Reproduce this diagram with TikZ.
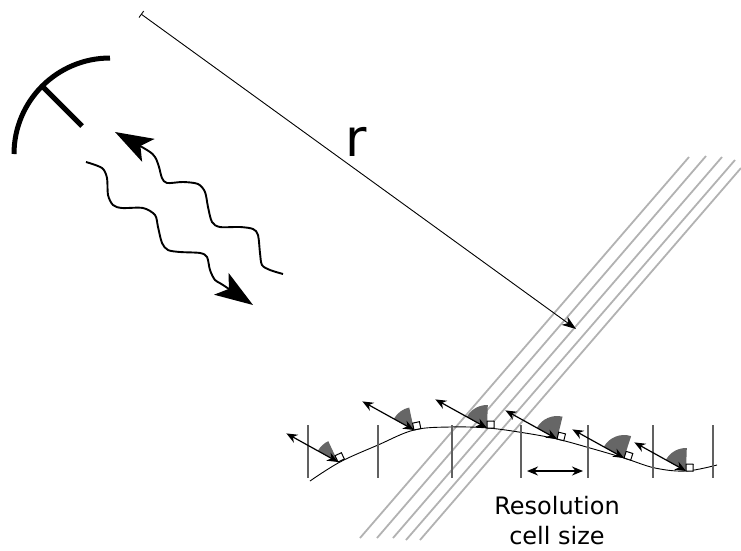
\documentclass[tikz,border=0pt]{standalone}
\usepackage{fontspec}
\setmainfont{DejaVu Sans}
\usetikzlibrary{arrows.meta}

\begin{document}
\begin{tikzpicture}[x = 1pt, y = 1pt,
	dish/.style = {line width = 5pt},
	slant/.style = {line width = 0.9pt, {Bar[width = 8pt]}-{Stealth[length = 14pt, width = 10pt, inset = 4pt]}},
	wave/.style = {line width = 1.9pt, -{Stealth[length = 38pt, width = 26pt, inset = 9pt]}},
	pulse/.style = {line width = 1.8pt, draw = black!30},
	ground/.style = {line width = 0.9pt},
	cellline/.style = {line width = 1.8pt, draw = black!62},
	lobe/.style = {fill = black!60},
	spot/.style = {draw, fill = white, line width = 1pt},
	echo/.style = {line width = 1.2pt, {Stealth[length = 11pt, width = 9pt]}-{Stealth[length = 11pt, width = 9pt]}},
	cellspan/.style = {line width = 1.5pt, {Stealth[length = 11pt, width = 9pt]}-{Stealth[length = 11pt, width = 9pt]}},
	txt/.style = {inner sep = 0pt}]
	\useasboundingbox (0,0) rectangle (741,-550);

	% wavefronts of the pulse
	\draw[pulse] (360,-538) -- (689,-157);
	\draw[pulse] (377,-538) -- (706,-156);
	\draw[pulse] (393,-538) -- (722,-157);
	\draw[pulse] (406,-540) -- (735,-160);
	\draw[pulse] (420,-540) -- (741,-168);

	% antenna
	\draw[dish] (14,-154) arc[start angle = 180, end angle = 90, radius = 96];
	\draw[dish] (42,-86) -- (82,-126);

	% slant range
	\coordinate (rstart) at (141,-14);
	\coordinate (rend) at (576,-329);
	\draw[slant] (rstart) -- (rend);
	\node[txt, font = \fontsize{52}{52}\selectfont](rlabel) at (356,-142){r};

	% transmitted and received waves
	\draw[wave] plot[smooth, tension = 0.5] coordinates {(86,-162) (102,-168) (107,-178) (108,-195) (113,-205) (122,-208) (143,-208) (155,-215) (158,-227) (162,-243) (168,-250) (180,-252) (200,-253) (207,-257) (210,-270) (215,-280) (223,-285) (253,-305)};
	\draw[wave] plot[smooth, tension = 0.5] coordinates {(283,-274) (270,-270) (262,-265) (260,-253) (258,-235) (253,-229) (240,-227) (220,-227) (212,-222) (208,-207) (205,-192) (198,-184) (183,-182) (167,-183) (162,-178) (159,-167) (155,-157) (147,-150) (115,-132)};

	% terrain and cells
	\draw[ground] plot[smooth, tension = 0.6] coordinates {(310,-481) (340,-462) (378,-445) (414,-430) (450,-427) (488,-428) (525,-433) (557,-439) (590,-448) (624,-458) (655,-468) (686,-471) (717,-465)};
	\draw[cellline] (308,-425) -- (308,-478);
	\draw[cellline] (378,-425) -- (378,-478);
	\draw[cellline] (452,-425) -- (452,-478);
	\draw[cellline] (521,-425) -- (521,-478);
	\draw[cellline] (588,-425) -- (588,-478);
	\draw[cellline] (653,-425) -- (653,-478);
	\draw[cellline] (713,-425) -- (713,-478);

	% scatterers
	\coordinate (s1) at (338,-462);
	\coordinate (s2) at (414,-430);
	\coordinate (s3) at (487,-428);
	\coordinate (s4) at (557,-439);
	\coordinate (s5) at (624,-458);
	\coordinate (s6) at (686,-471);

	\fill[lobe] (s1) -- ++(151:23) arc[start angle = 151, end angle = 115, radius = 23] -- cycle;
	\fill[lobe] (s2) -- ++(151:23) arc[start angle = 151, end angle = 102, radius = 23] -- cycle;
	\fill[lobe] (s3) -- ++(151:23) arc[start angle = 151, end angle = 88, radius = 23] -- cycle;
	\fill[lobe] (s4) -- ++(151:23) arc[start angle = 151, end angle = 76, radius = 23] -- cycle;
	\fill[lobe] (s5) -- ++(151:23) arc[start angle = 151, end angle = 72, radius = 23] -- cycle;
	\fill[lobe] (s6) -- ++(151:23) arc[start angle = 151, end angle = 88, radius = 23] -- cycle;

	\draw[spot] (s1) -- ++(25:7) -- ++(115:7) -- ++(205:7) -- cycle;
	\draw[spot] (s2) -- ++(12:7) -- ++(102:7) -- ++(192:7) -- cycle;
	\draw[spot] (s3) -- ++(-2:7) -- ++(88:7) -- ++(178:7) -- cycle;
	\draw[spot] (s4) -- ++(-14:7) -- ++(76:7) -- ++(166:7) -- cycle;
	\draw[spot] (s5) -- ++(-18:7) -- ++(72:7) -- ++(162:7) -- cycle;
	\draw[spot] (s6) -- ++(-2:7) -- ++(88:7) -- ++(178:7) -- cycle;

	\draw[echo] (s1) -- ++(151:59);
	\draw[echo] (s2) -- ++(151:59);
	\draw[echo] (s3) -- ++(151:59);
	\draw[echo] (s4) -- ++(151:59);
	\draw[echo] (s5) -- ++(151:59);
	\draw[echo] (s6) -- ++(151:59);

	% resolution cell
	\coordinate (cleft) at (527,-471);
	\coordinate (cright) at (583,-471);
	\draw[cellspan] (cleft) -- (cright);
	\node[txt, anchor = north, align = center, font = \fontsize{24}{30}\selectfont](cellsize) at (557,-496){Resolution\\cell size};
\end{tikzpicture}
\end{document}
